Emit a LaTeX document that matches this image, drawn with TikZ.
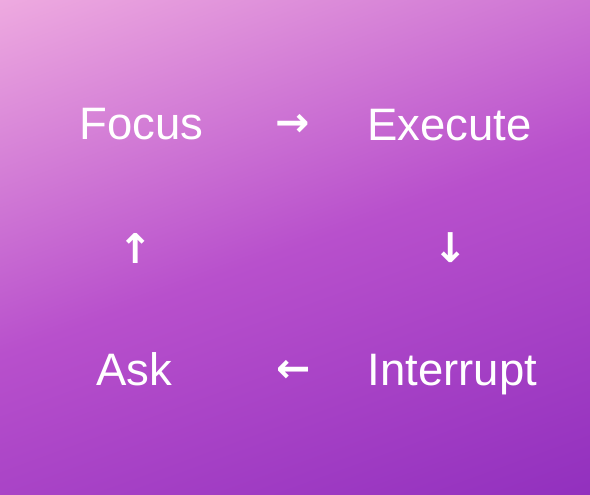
\documentclass[tikz,border=0pt]{standalone}
\usepackage{fontspec}
\setmainfont{Liberation Sans}
\newfontfamily\arrowfont{DejaVu Sans}
\definecolor{cA}{RGB}{238,170,224}
\definecolor{cB}{RGB}{184,80,204}
\definecolor{cC}{RGB}{146,48,190}
\pgfdeclarehorizontalshading{bgshade}{100bp}{color(0bp)=(cA); color(25bp)=(cA); color(50bp)=(cB); color(75bp)=(cC); color(100bp)=(cC)}
\tikzset{
  label/.style={text=white, inner sep=0pt, anchor=base, font=\fontsize{45.5}{54}\selectfont},
  arrowglyph/.style={text=white, inner sep=0pt, anchor=center, font=\arrowfont\bfseries\fontsize{41}{48}\selectfont}
}
\begin{document}
\begin{tikzpicture}[x=1pt,y=1pt]
\useasboundingbox (0,0) rectangle (590,495);
\begin{scope}
  \clip (0,0) rectangle (590,495);
  \begin{scope}[transform canvas={shift={(295pt,247.5pt)}, rotate=-70}]
    \shade[shading=bgshade] (-333.5,-600) rectangle (333.5,600);
  \end{scope}
\end{scope}
\node[label] (focus) at (141.5,355) {Focus};
\node[label] (execute) at (449.5,354) {Execute};
\node[label] (ask) at (134.5,109) {Ask};
\node[label] (interrupt) at (452.5,109) {Interrupt};
\node[arrowglyph] (a1) at (292.5,370) {→};
\node[arrowglyph] (a2) at (451,247) {↓};
\node[arrowglyph] (a3) at (294,124) {←};
\node[arrowglyph] (a4) at (136,247) {↑};
\end{tikzpicture}
\end{document}
